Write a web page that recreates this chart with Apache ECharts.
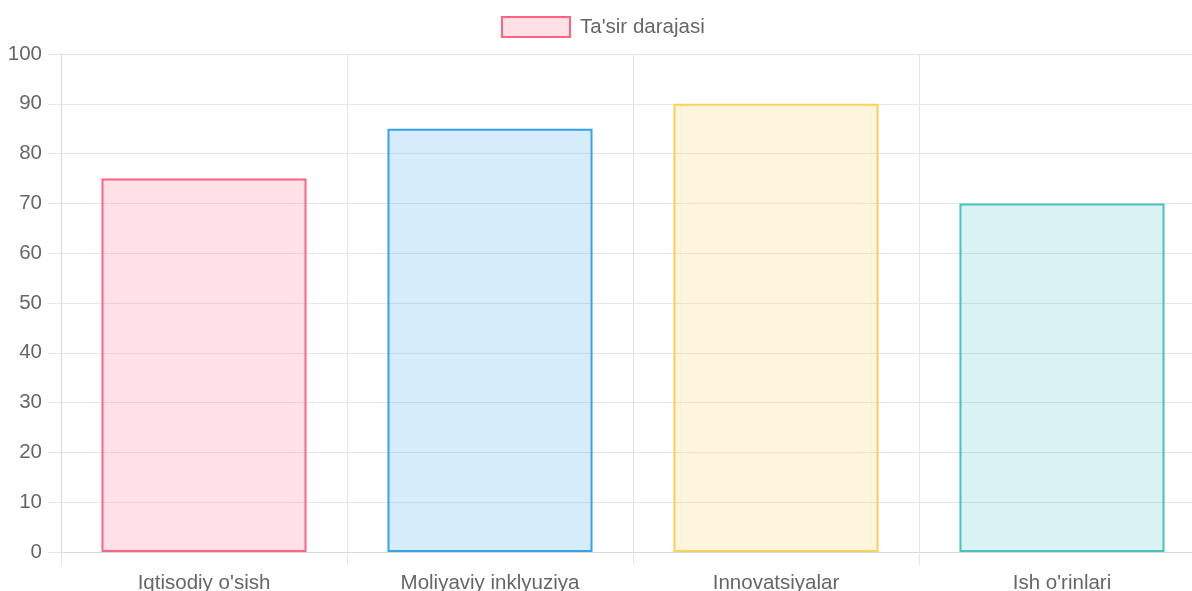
<!DOCTYPE html>
<html>
<head>
<meta charset="utf-8">
<script src="https://cdn.jsdelivr.net/npm/echarts@6/dist/echarts.min.js"></script>
<style>
  html, body { margin: 0; padding: 0; background: #fff; }
  #chart { width: 1192px; height: 591px; }
</style>
</head>
<body>
<div id="chart"></div>
<script>
var categories = ["Iqtisodiy o'sish", "Moliyaviy inklyuziya", "Innovatsiyalar", "Ish o'rinlari"];
var values = [75, 85, 90, 70];
var seriesName = "Ta'sir darajasi";

// Chart.js-like palette: fill + border per bar
var fills = ['rgba(255,99,132,0.2)', 'rgba(54,162,235,0.2)', 'rgba(255,206,86,0.2)', 'rgba(75,192,192,0.2)'];
var borders = ['rgb(255,99,132)', 'rgb(54,162,235)', 'rgb(255,206,86)', 'rgb(75,192,192)'];

var gridColor = '#e6e6e6';
var font = 'Arial, "Liberation Sans", sans-serif';

var myChart = echarts.init(document.getElementById('chart'));

var option = {
    animation: false,
    textStyle: { fontFamily: font },
    legend: {
        top: 11,
        left: 496,
        icon: 'rect',
        itemWidth: 68,
        itemHeight: 20,
        textStyle: { color: '#666', fontSize: 20.5, fontFamily: font, padding: [0, 0, 0, 5] },
        itemStyle: { color: fills[0], borderColor: borders[0], borderWidth: 2 },
        data: [seriesName]
    },
    // plot runs past the right edge of the picture (cropped like the reference)
    grid: {
        left: 61,
        width: 1144,
        top: 54,
        bottom: 39,
        containLabel: false,
        outerBoundsMode: 'none'
    },
    xAxis: {
        type: 'category',
        data: categories,
        boundaryGap: true,
        axisLine: { show: true, lineStyle: { color: '#d9d9d9', width: 1 } },
        axisTick: { show: true, length: 13, lineStyle: { color: gridColor } },
        splitLine: { show: true, lineStyle: { color: gridColor } },
        axisLabel: { color: '#666', fontSize: 20.5, margin: 21, fontFamily: font }
    },
    yAxis: {
        type: 'value',
        min: 0,
        max: 100,
        interval: 10,
        axisLine: { show: true, lineStyle: { color: '#d9d9d9', width: 1 } },
        axisTick: { show: true, length: 13, lineStyle: { color: gridColor } },
        splitLine: { show: true, lineStyle: { color: gridColor } },
        axisLabel: { color: '#666', fontSize: 20.5, margin: 19, fontFamily: font }
    },
    series: [{
        name: seriesName,
        type: 'bar',
        barWidth: '71.7%',
        itemStyle: { color: fills[0], borderColor: borders[0], borderWidth: 2 },
        data: values.map(function (v, i) {
            return {
                value: v,
                itemStyle: { color: fills[i], borderColor: borders[i], borderWidth: 2 }
            };
        })
    }]
};

myChart.setOption(option);
</script>
</body>
</html>
